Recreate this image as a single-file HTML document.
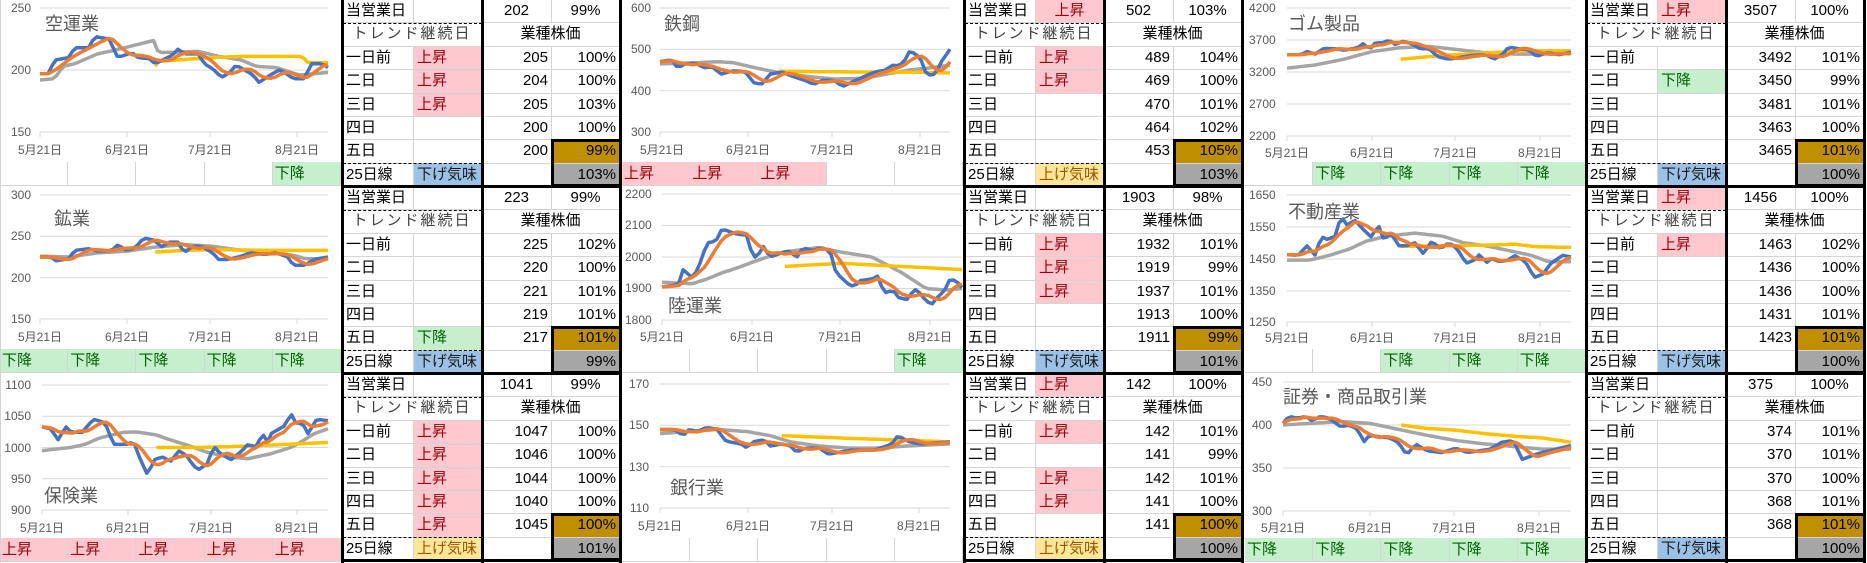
<!DOCTYPE html>
<html><head><meta charset="utf-8">
<style>
*{margin:0;padding:0}
body{width:1867px;height:563px;position:relative;background:#fff;overflow:hidden;font-family:"Liberation Sans","Noto Sans CJK JP",sans-serif;color:#000}
svg.ch{position:absolute}
svg.ch text{font-family:"Liberation Sans","Noto Sans CJK JP",sans-serif;fill:#595959}
svg.ch .n{font-size:12px}
svg.ch .d{font-size:12px}
svg.ch .t{font-size:18px}
.st{position:absolute;width:341px;height:24px;display:flex}
.st>div{width:68.2px;height:24px;box-sizing:border-box;border-right:1px solid #d4d4d4;border-bottom:1px solid #d4d4d4;font-size:15px;line-height:23px;padding-left:2px;white-space:nowrap}
.tb{position:absolute;display:grid;grid-template-columns:71px 68px 70px 68px;grid-template-rows:repeat(8,23.375px);width:277px;height:187px}
.tb>div{border-right:1px solid #d4d4d4;border-bottom:1px solid #d4d4d4;box-sizing:border-box;font-size:15px;line-height:22px;padding:0 3px;white-space:nowrap;overflow:hidden}
.tb .c{text-align:center}
.tb .r{text-align:right}
.s2{grid-column:span 2}
.tr{letter-spacing:2px;color:#404040}
.p{background:#ffc7ce;color:#9c0006}
.g{background:#c6efce;color:#006100}
.b{background:#9bc2e6;color:#1a1a1a}
.y{background:#ffe699;color:#9c5700}
.br{background:#bf8f00}
.gy{background:#a6a6a6}
.k{position:absolute;background:#000}
.dh{position:absolute;height:0;border-top:1.5px dashed #000;width:139px}
.bx{position:absolute;border:3px solid #000;box-sizing:border-box;width:71px;height:48px}
</style></head><body>

<svg class="ch" id="c1" style="left:0;top:0" width="341" height="162">
<g stroke="#d9d9d9" stroke-width="1"><line x1="40" x2="328" y1="8" y2="8"/><line x1="40" x2="328" y1="70" y2="70"/><line x1="40" x2="328" y1="132" y2="132"/>
<line x1="40" x2="40" y1="132" y2="137"/><line x1="127" x2="127" y1="132" y2="137"/><line x1="210" x2="210" y1="132" y2="137"/><line x1="297" x2="297" y1="132" y2="137"/></g>
<text class="n" x="31" y="12" text-anchor="end">250</text><text class="n" x="31" y="74" text-anchor="end">200</text><text class="n" x="31" y="136" text-anchor="end">150</text>
<text class="d" x="40" y="154" text-anchor="middle">5月21日</text><text class="d" x="127" y="154" text-anchor="middle">6月21日</text><text class="d" x="210" y="154" text-anchor="middle">7月21日</text><text class="d" x="297" y="154" text-anchor="middle">8月21日</text>
<text class="t" x="45" y="30">空運業</text>
</svg>
<svg class="ch" id="c2" style="left:0;top:187px" width="341" height="162">
<g stroke="#d9d9d9"><line x1="40" x2="328" y1="8" y2="8"/><line x1="40" x2="328" y1="49.3" y2="49.3"/><line x1="40" x2="328" y1="90.7" y2="90.7"/><line x1="40" x2="328" y1="132" y2="132"/>
<line x1="40" x2="40" y1="132" y2="137"/><line x1="127" x2="127" y1="132" y2="137"/><line x1="210" x2="210" y1="132" y2="137"/><line x1="297" x2="297" y1="132" y2="137"/></g>
<text class="n" x="31" y="12" text-anchor="end">300</text><text class="n" x="31" y="53" text-anchor="end">250</text><text class="n" x="31" y="95" text-anchor="end">200</text><text class="n" x="31" y="136" text-anchor="end">150</text>
<text class="d" x="40" y="154" text-anchor="middle">5月21日</text><text class="d" x="127" y="154" text-anchor="middle">6月21日</text><text class="d" x="210" y="154" text-anchor="middle">7月21日</text><text class="d" x="297" y="154" text-anchor="middle">8月21日</text>
<text class="t" x="54" y="38">鉱業</text>
</svg>
<svg class="ch" id="c3" style="left:0;top:374px" width="341" height="164">
<g stroke="#d9d9d9"><line x1="42" x2="328" y1="11" y2="11"/><line x1="42" x2="328" y1="42.25" y2="42.25"/><line x1="42" x2="328" y1="73.5" y2="73.5"/><line x1="42" x2="328" y1="104.75" y2="104.75"/><line x1="42" x2="328" y1="136" y2="136"/>
<line x1="42" x2="42" y1="136" y2="141"/><line x1="128" x2="128" y1="136" y2="141"/><line x1="211" x2="211" y1="136" y2="141"/><line x1="297" x2="297" y1="136" y2="141"/></g>
<text class="n" x="31" y="15" text-anchor="end">1100</text><text class="n" x="31" y="46" text-anchor="end">1050</text><text class="n" x="31" y="78" text-anchor="end">1000</text><text class="n" x="31" y="109" text-anchor="end">950</text><text class="n" x="31" y="140" text-anchor="end">900</text>
<text class="d" x="42" y="158" text-anchor="middle">5月21日</text><text class="d" x="128" y="158" text-anchor="middle">6月21日</text><text class="d" x="211" y="158" text-anchor="middle">7月21日</text><text class="d" x="297" y="158" text-anchor="middle">8月21日</text>
<text class="t" x="44" y="128">保険業</text>
</svg>
<svg class="ch" id="c4" style="left:622px;top:0" width="341" height="162">
<g stroke="#d9d9d9"><line x1="38" x2="328" y1="8" y2="8"/><line x1="38" x2="328" y1="49.3" y2="49.3"/><line x1="38" x2="328" y1="90.7" y2="90.7"/><line x1="38" x2="328" y1="132" y2="132"/>
<line x1="38" x2="38" y1="132" y2="137"/><line x1="126" x2="126" y1="132" y2="137"/><line x1="210" x2="210" y1="132" y2="137"/><line x1="298" x2="298" y1="132" y2="137"/></g>
<text class="n" x="29" y="12" text-anchor="end">600</text><text class="n" x="29" y="53" text-anchor="end">500</text><text class="n" x="29" y="95" text-anchor="end">400</text><text class="n" x="29" y="136" text-anchor="end">300</text>
<text class="d" x="40" y="154" text-anchor="middle">5月21日</text><text class="d" x="126" y="154" text-anchor="middle">6月21日</text><text class="d" x="210" y="154" text-anchor="middle">7月21日</text><text class="d" x="298" y="154" text-anchor="middle">8月21日</text>
<text class="t" x="42" y="30">鉄鋼</text>
</svg>
<svg class="ch" id="c5" style="left:622px;top:187px" width="341" height="162">
<g stroke="#d9d9d9"><line x1="40" x2="340" y1="7" y2="7"/><line x1="40" x2="340" y1="38.5" y2="38.5"/><line x1="40" x2="340" y1="70" y2="70"/><line x1="40" x2="340" y1="101.5" y2="101.5"/><line x1="40" x2="340" y1="133" y2="133"/>
<line x1="40" x2="40" y1="133" y2="138"/><line x1="130" x2="130" y1="133" y2="138"/><line x1="218" x2="218" y1="133" y2="138"/><line x1="308" x2="308" y1="133" y2="138"/></g>
<text class="n" x="3" y="11">2200</text><text class="n" x="3" y="42">2100</text><text class="n" x="3" y="74">2000</text><text class="n" x="3" y="105">1900</text><text class="n" x="3" y="137">1800</text>
<text class="d" x="40" y="154" text-anchor="middle">5月21日</text><text class="d" x="130" y="154" text-anchor="middle">6月21日</text><text class="d" x="218" y="154" text-anchor="middle">7月21日</text><text class="d" x="308" y="154" text-anchor="middle">8月21日</text>
<text class="t" x="46" y="125">陸運業</text>
</svg>
<svg class="ch" id="c6" style="left:622px;top:374px" width="341" height="164">
<g stroke="#d9d9d9"><line x1="38" x2="328" y1="10" y2="10"/><line x1="38" x2="328" y1="51.3" y2="51.3"/><line x1="38" x2="328" y1="92.7" y2="92.7"/><line x1="38" x2="328" y1="134" y2="134"/>
<line x1="38" x2="38" y1="134" y2="139"/><line x1="126" x2="126" y1="134" y2="139"/><line x1="210" x2="210" y1="134" y2="139"/><line x1="297" x2="297" y1="134" y2="139"/></g>
<text class="n" x="27" y="14" text-anchor="end">170</text><text class="n" x="27" y="55" text-anchor="end">150</text><text class="n" x="27" y="97" text-anchor="end">130</text><text class="n" x="27" y="138" text-anchor="end">110</text>
<text class="d" x="38" y="156" text-anchor="middle">5月21日</text><text class="d" x="126" y="156" text-anchor="middle">6月21日</text><text class="d" x="210" y="156" text-anchor="middle">7月21日</text><text class="d" x="297" y="156" text-anchor="middle">8月21日</text>
<text class="t" x="48" y="120">銀行業</text>
</svg>
<svg class="ch" id="c7" style="left:1245px;top:0" width="341" height="162">
<g stroke="#d9d9d9"><line x1="42" x2="326" y1="8" y2="8"/><line x1="42" x2="326" y1="40" y2="40"/><line x1="42" x2="326" y1="72" y2="72"/><line x1="42" x2="326" y1="104" y2="104"/><line x1="42" x2="326" y1="136" y2="136"/>
<line x1="42" x2="42" y1="136" y2="141"/><line x1="127" x2="127" y1="136" y2="141"/><line x1="210" x2="210" y1="136" y2="141"/><line x1="295" x2="295" y1="136" y2="141"/></g>
<text class="n" x="4" y="12">4200</text><text class="n" x="4" y="44">3700</text><text class="n" x="4" y="76">3200</text><text class="n" x="4" y="108">2700</text><text class="n" x="4" y="140">2200</text>
<text class="d" x="42" y="157" text-anchor="middle">5月21日</text><text class="d" x="127" y="157" text-anchor="middle">6月21日</text><text class="d" x="210" y="157" text-anchor="middle">7月21日</text><text class="d" x="295" y="157" text-anchor="middle">8月21日</text>
<text class="t" x="43" y="30">ゴム製品</text>
</svg>
<svg class="ch" id="c8" style="left:1245px;top:187px" width="341" height="162">
<g stroke="#d9d9d9"><line x1="42" x2="326" y1="8" y2="8"/><line x1="42" x2="326" y1="40" y2="40"/><line x1="42" x2="326" y1="72" y2="72"/><line x1="42" x2="326" y1="104" y2="104"/><line x1="42" x2="326" y1="135" y2="135"/>
<line x1="42" x2="42" y1="135" y2="140"/><line x1="127" x2="127" y1="135" y2="140"/><line x1="210" x2="210" y1="135" y2="140"/><line x1="295" x2="295" y1="135" y2="140"/></g>
<text class="n" x="4" y="12">1650</text><text class="n" x="4" y="44">1550</text><text class="n" x="4" y="76">1450</text><text class="n" x="4" y="108">1350</text><text class="n" x="4" y="139">1250</text>
<text class="d" x="42" y="155" text-anchor="middle">5月21日</text><text class="d" x="127" y="155" text-anchor="middle">6月21日</text><text class="d" x="210" y="155" text-anchor="middle">7月21日</text><text class="d" x="295" y="155" text-anchor="middle">8月21日</text>
<text class="t" x="43" y="31">不動産業</text>
</svg>
<svg class="ch" id="c9" style="left:1245px;top:374px" width="341" height="164">
<g stroke="#d9d9d9"><line x1="38" x2="326" y1="8" y2="8"/><line x1="38" x2="326" y1="51" y2="51"/><line x1="38" x2="326" y1="94" y2="94"/><line x1="38" x2="326" y1="137" y2="137"/>
<line x1="38" x2="38" y1="137" y2="142"/><line x1="125" x2="125" y1="137" y2="142"/><line x1="209" x2="209" y1="137" y2="142"/><line x1="294" x2="294" y1="137" y2="142"/></g>
<text class="n" x="27" y="12" text-anchor="end">450</text><text class="n" x="27" y="55" text-anchor="end">400</text><text class="n" x="27" y="98" text-anchor="end">350</text><text class="n" x="27" y="141" text-anchor="end">300</text>
<text class="d" x="38" y="158" text-anchor="middle">5月21日</text><text class="d" x="125" y="158" text-anchor="middle">6月21日</text><text class="d" x="209" y="158" text-anchor="middle">7月21日</text><text class="d" x="294" y="158" text-anchor="middle">8月21日</text>
<text class="t" x="38" y="29">証券・商品取引業</text>
</svg>

<div class="st" style="left:0;top:162px"><div></div><div></div><div></div><div></div><div class="g">下降</div></div>
<div class="st" style="left:0;top:349px"><div class="g">下降</div><div class="g">下降</div><div class="g">下降</div><div class="g">下降</div><div class="g">下降</div></div>
<div class="st" style="left:0;top:538px"><div class="p">上昇</div><div class="p">上昇</div><div class="p">上昇</div><div class="p">上昇</div><div class="p">上昇</div></div>
<div class="st" style="left:622px;top:162px"><div class="p">上昇</div><div class="p">上昇</div><div class="p">上昇</div><div></div><div></div></div>
<div class="st" style="left:622px;top:349px"><div></div><div></div><div></div><div></div><div class="g">下降</div></div>
<div class="st" style="left:622px;top:538px"><div></div><div></div><div></div><div></div><div></div></div>
<div class="st" style="left:1245px;top:162px"><div></div><div class="g">下降</div><div class="g">下降</div><div class="g">下降</div><div class="g">下降</div></div>
<div class="st" style="left:1245px;top:349px"><div></div><div></div><div class="g">下降</div><div class="g">下降</div><div class="g">下降</div></div>
<div class="st" style="left:1245px;top:538px"><div class="g">下降</div><div class="g">下降</div><div class="g">下降</div><div class="g">下降</div><div class="g">下降</div></div>

<div class="tb" style="left:343px;top:0">
<div>当営業日</div><div></div><div class="c">202</div><div class="c">99%</div>
<div class="c s2 tr">トレンド継続日</div><div class="c s2">業種株価</div>
<div>一日前</div><div class="p">上昇</div><div class="r">205</div><div class="r">100%</div>
<div>二日</div><div class="p">上昇</div><div class="r">204</div><div class="r">100%</div>
<div>三日</div><div class="p">上昇</div><div class="r">205</div><div class="r">103%</div>
<div>四日</div><div></div><div class="r">200</div><div class="r">100%</div>
<div>五日</div><div></div><div class="r">200</div><div class="r br">99%</div>
<div>25日線</div><div class="b">下げ気味</div><div></div><div class="r gy">103%</div>
</div>
<div class="tb" style="left:343px;top:187px">
<div>当営業日</div><div></div><div class="c">223</div><div class="c">99%</div>
<div class="c s2 tr">トレンド継続日</div><div class="c s2">業種株価</div>
<div>一日前</div><div></div><div class="r">225</div><div class="r">102%</div>
<div>二日</div><div></div><div class="r">220</div><div class="r">100%</div>
<div>三日</div><div></div><div class="r">221</div><div class="r">101%</div>
<div>四日</div><div></div><div class="r">219</div><div class="r">101%</div>
<div>五日</div><div class="g">下降</div><div class="r">217</div><div class="r br">101%</div>
<div>25日線</div><div class="b">下げ気味</div><div></div><div class="r gy">99%</div>
</div>
<div class="tb" style="left:343px;top:374px">
<div>当営業日</div><div></div><div class="c">1041</div><div class="c">99%</div>
<div class="c s2 tr">トレンド継続日</div><div class="c s2">業種株価</div>
<div>一日前</div><div class="p">上昇</div><div class="r">1047</div><div class="r">100%</div>
<div>二日</div><div class="p">上昇</div><div class="r">1046</div><div class="r">100%</div>
<div>三日</div><div class="p">上昇</div><div class="r">1044</div><div class="r">100%</div>
<div>四日</div><div class="p">上昇</div><div class="r">1040</div><div class="r">100%</div>
<div>五日</div><div class="p">上昇</div><div class="r">1045</div><div class="r br">100%</div>
<div>25日線</div><div class="y">上げ気味</div><div></div><div class="r gy">101%</div>
</div>

<div class="tb" style="left:965px;top:0">
<div>当営業日</div><div class="p c">上昇</div><div class="c">502</div><div class="c">103%</div>
<div class="c s2 tr">トレンド継続日</div><div class="c s2">業種株価</div>
<div>一日前</div><div class="p">上昇</div><div class="r">489</div><div class="r">104%</div>
<div>二日</div><div class="p">上昇</div><div class="r">469</div><div class="r">100%</div>
<div>三日</div><div></div><div class="r">470</div><div class="r">101%</div>
<div>四日</div><div></div><div class="r">464</div><div class="r">102%</div>
<div>五日</div><div></div><div class="r">453</div><div class="r br">105%</div>
<div>25日線</div><div class="y">上げ気味</div><div></div><div class="r gy">103%</div>
</div>
<div class="tb" style="left:965px;top:187px">
<div>当営業日</div><div></div><div class="c">1903</div><div class="c">98%</div>
<div class="c s2 tr">トレンド継続日</div><div class="c s2">業種株価</div>
<div>一日前</div><div class="p">上昇</div><div class="r">1932</div><div class="r">101%</div>
<div>二日</div><div class="p">上昇</div><div class="r">1919</div><div class="r">99%</div>
<div>三日</div><div class="p">上昇</div><div class="r">1937</div><div class="r">101%</div>
<div>四日</div><div></div><div class="r">1913</div><div class="r">100%</div>
<div>五日</div><div></div><div class="r">1911</div><div class="r br">99%</div>
<div>25日線</div><div class="b">下げ気味</div><div></div><div class="r gy">101%</div>
</div>
<div class="tb" style="left:965px;top:374px">
<div>当営業日</div><div class="p">上昇</div><div class="c">142</div><div class="c">100%</div>
<div class="c s2 tr">トレンド継続日</div><div class="c s2">業種株価</div>
<div>一日前</div><div class="p">上昇</div><div class="r">142</div><div class="r">101%</div>
<div>二日</div><div></div><div class="r">141</div><div class="r">99%</div>
<div>三日</div><div class="p">上昇</div><div class="r">142</div><div class="r">101%</div>
<div>四日</div><div class="p">上昇</div><div class="r">141</div><div class="r">100%</div>
<div>五日</div><div></div><div class="r">141</div><div class="r br">100%</div>
<div>25日線</div><div class="y">上げ気味</div><div></div><div class="r gy">100%</div>
</div>

<div class="tb" style="left:1587px;top:0">
<div>当営業日</div><div class="p">上昇</div><div class="c">3507</div><div class="c">100%</div>
<div class="c s2 tr">トレンド継続日</div><div class="c s2">業種株価</div>
<div>一日前</div><div></div><div class="r">3492</div><div class="r">101%</div>
<div>二日</div><div class="g">下降</div><div class="r">3450</div><div class="r">99%</div>
<div>三日</div><div></div><div class="r">3481</div><div class="r">101%</div>
<div>四日</div><div></div><div class="r">3463</div><div class="r">100%</div>
<div>五日</div><div></div><div class="r">3465</div><div class="r br">101%</div>
<div>25日線</div><div class="b">下げ気味</div><div></div><div class="r gy">100%</div>
</div>
<div class="tb" style="left:1587px;top:187px">
<div>当営業日</div><div class="p">上昇</div><div class="c">1456</div><div class="c">100%</div>
<div class="c s2 tr">トレンド継続日</div><div class="c s2">業種株価</div>
<div>一日前</div><div class="p">上昇</div><div class="r">1463</div><div class="r">102%</div>
<div>二日</div><div></div><div class="r">1436</div><div class="r">100%</div>
<div>三日</div><div></div><div class="r">1436</div><div class="r">100%</div>
<div>四日</div><div></div><div class="r">1431</div><div class="r">101%</div>
<div>五日</div><div></div><div class="r">1423</div><div class="r br">101%</div>
<div>25日線</div><div class="b">下げ気味</div><div></div><div class="r gy">100%</div>
</div>
<div class="tb" style="left:1587px;top:374px">
<div>当営業日</div><div></div><div class="c">375</div><div class="c">100%</div>
<div class="c s2 tr">トレンド継続日</div><div class="c s2">業種株価</div>
<div>一日前</div><div></div><div class="r">374</div><div class="r">101%</div>
<div>二日</div><div></div><div class="r">370</div><div class="r">101%</div>
<div>三日</div><div></div><div class="r">370</div><div class="r">100%</div>
<div>四日</div><div></div><div class="r">368</div><div class="r">101%</div>
<div>五日</div><div></div><div class="r">368</div><div class="r br">101%</div>
<div>25日線</div><div class="b">下げ気味</div><div></div><div class="r gy">100%</div>
</div>

<div style="position:absolute;left:0;top:0;width:1px;height:563px;background:#d4d4d4"></div>

<script>
(function(){
function add(cls,st){var d=document.createElement('div');d.className=cls;d.style.cssText=st;document.body.appendChild(d);}
[0,622,1244].forEach(function(gx){
  [0,187,374].forEach(function(ry){
    var h=(ry==374)?189:187;
    add('k','left:'+(gx+341)+'px;top:'+ry+'px;width:3px;height:'+h+'px');
    add('k','left:'+(gx+481)+'px;top:'+ry+'px;width:3px;height:'+h+'px');
    add('k','left:'+(gx+619)+'px;top:'+ry+'px;width:3px;height:'+h+'px');
    add('k','left:'+(gx+341)+'px;top:'+(ry+185)+'px;width:281px;height:3px');
    add('dh','left:'+(gx+343)+'px;top:'+(ry+22.5)+'px');
    add('dh','left:'+(gx+343)+'px;top:'+(ry+163)+'px');
    add('bx','left:'+(gx+551)+'px;top:'+(ry+139)+'px');
  });
});
var NS='http://www.w3.org/2000/svg';
function interp(kp,t){
  if(t<=kp[0][0])return kp[0][1];
  for(var i=1;i<kp.length;i++){if(t<=kp[i][0]){var a=kp[i-1],b=kp[i];return a[1]+(b[1]-a[1])*(t-a[0])/(b[0]-a[0]);}}
  return kp[kp.length-1][1];
}
function line(svg,pts,col){var p=document.createElementNS(NS,'polyline');p.setAttribute('points',pts.join(' '));p.setAttribute('fill','none');p.setAttribute('stroke',col);p.setAttribute('stroke-width','3.5');p.setAttribute('stroke-linejoin','round');svg.appendChild(p);}
function draw(c){
  var svg=document.getElementById(c.id),N=72;
  function X(t){return c.x0+t*(c.x1-c.x0);}
  function Y(v){return c.top+(c.ymax-v)/(c.ymax-c.ymin)*(c.bot-c.top);}
  var b=[];for(var i=0;i<N;i++)b.push(interp(c.b,i/(N-1)));
  var o=[];for(i=0;i<N;i++){var s=0,n=0;for(var j=Math.max(0,i-4);j<=i;j++){s+=b[j];n++;}o.push(s/n);}
  var g=[],y=[],bp=[],op=[];
  for(i=0;i<N;i++){var t=i/(N-1);g.push(X(t).toFixed(1)+','+Y(interp(c.g,t)).toFixed(1));
    if(t>=c.y[0][0])y.push(X(t).toFixed(1)+','+Y(interp(c.y,t)).toFixed(1));
    bp.push(X(t).toFixed(1)+','+Y(b[i]).toFixed(1));op.push(X(t).toFixed(1)+','+Y(o[i]).toFixed(1));}
  y.unshift(X(c.y[0][0]).toFixed(1)+','+Y(c.y[0][1]).toFixed(1));
  line(svg,g,'#a5a5a5');line(svg,y,'#ffc000');line(svg,bp,'#4472c4');line(svg,op,'#ed7d31');
}
var C=[
{id:'c1',x0:40,x1:328,top:8,bot:132,ymin:150,ymax:250,
b:[[0,197],[.03,197],[.05,208],[.1,210],[.12,218],[.17,218],[.19,227],[.24,225],[.27,210],[.32,214],[.34,210],[.38,209],[.4,205],[.46,212],[.48,217],[.5,213],[.55,213],[.57,205],[.6,201],[.63,194],[.66,198],[.68,204],[.71,200],[.74,196],[.76,190],[.8,196],[.83,200],[.85,198],[.88,193],[.92,193],[.94,205],[.98,205],[1,202]],
g:[[0,192],[.05,193],[.08,203],[.12,205],[.2,213],[.26,216],[.33,220],[.38,223],[.4,224],[.41,214],[.55,215],[.62,211],[.7,208],[.75,203],[.82,202],[.9,196],[.95,197],[1,198]],
y:[[.4,203],[.41,207],[.47,208],[.6,210],[.7,211],[.91,211],[.93,206],[1,206]]},
{id:'c2',x0:40,x1:328,top:8,bot:132,ymin:150,ymax:300,
b:[[0,225],[.04,225],[.05,220],[.1,223],[.12,233],[.17,235],[.2,232],[.25,233],[.27,240],[.3,233],[.33,236],[.36,248],[.4,245],[.42,237],[.45,243],[.48,243],[.5,230],[.53,238],[.56,238],[.6,230],[.62,222],[.65,222],[.7,226],[.73,230],[.78,228],[.82,230],[.86,225],[.88,215],[.92,215],[.95,222],[1,225]],
g:[[0,226],[.1,225],[.2,230],[.3,232],[.4,237],[.5,240],[.6,238],[.7,233],[.8,230],[.88,227],[.92,223],[1,223]],
y:[[.4,231],[.5,233],[.6,234],[.8,233],[1,233]]},
{id:'c3',x0:42,x1:328,top:11,bot:136,ymin:900,ymax:1100,
b:[[0,1033],[.03,1030],[.06,1010],[.08,1035],[.1,1025],[.14,1024],[.16,1035],[.18,1045],[.22,1040],[.25,1005],[.3,1005],[.32,1010],[.34,985],[.37,955],[.39,980],[.42,985],[.45,978],[.48,995],[.51,985],[.53,970],[.55,965],[.58,975],[.6,1003],[.62,992],[.66,980],[.7,995],[.72,1005],[.75,1000],[.77,1023],[.79,1008],[.8,1022],[.85,1035],[.87,1055],[.89,1037],[.91,1040],[.93,1022],[.96,1045],[1,1043]],
g:[[0,995],[.1,1000],[.15,1005],[.2,1015],[.28,1024],[.33,1025],[.4,1020],[.45,1012],[.52,1002],[.58,992],[.65,985],[.72,982],[.8,990],[.87,1000],[.91,1010],[.95,1022],[1,1030]],
y:[[.4,1000],[.55,1000],[.7,1002],[.85,1005],[1,1008]]},
{id:'c4',x0:38,x1:328,top:8,bot:132,ymin:300,ymax:600,
b:[[0,470],[.04,475],[.06,455],[.09,466],[.13,465],[.15,455],[.18,458],[.21,440],[.25,448],[.28,447],[.3,442],[.32,420],[.35,415],[.38,440],[.42,445],[.46,434],[.5,425],[.53,415],[.56,425],[.6,425],[.63,410],[.66,420],[.7,433],[.74,445],[.78,450],[.8,462],[.82,460],[.84,468],[.86,495],[.88,490],[.9,475],[.92,437],[.95,440],[.97,470],[1,500]],
g:[[0,465],[.1,467],[.2,470],[.25,468],[.33,455],[.4,445],[.5,435],[.6,428],[.7,430],[.78,440],[.86,450],[.93,455],[1,462]],
y:[[.41,447],[.55,446],[.7,445],[.85,445],[1,443]]},
{id:'c5',x0:40,x1:340,top:7,bot:133,ymin:1800,ymax:2200,
b:[[0,1905],[.04,1910],[.06,1920],[.07,1960],[.1,1935],[.12,1960],[.13,1990],[.15,2045],[.18,2050],[.2,2090],[.24,2075],[.27,2070],[.28,2075],[.3,2010],[.32,1990],[.33,2045],[.36,2000],[.42,2020],[.45,2000],[.47,2030],[.5,2020],[.53,2030],[.56,2020],[.58,1950],[.62,1915],[.64,1905],[.66,1925],[.7,1930],[.72,1940],[.74,1885],[.77,1895],[.79,1870],[.82,1865],[.84,1900],[.86,1885],[.88,1860],[.9,1850],[.92,1875],[.94,1890],[.96,1930],[.98,1925],[1,1903]],
g:[[0,1920],[.1,1915],[.15,1930],[.2,1950],[.25,1965],[.32,1990],[.4,2015],[.48,2025],[.52,2030],[.6,2015],[.7,2000],[.8,1950],[.88,1900],[.95,1895],[1,1900]],
y:[[.41,1970],[.5,1975],[.6,1980],[.7,1975],[.8,1970],[1,1960]]},
{id:'c6',x0:38,x1:328,top:10,bot:134,ymin:110,ymax:170,
b:[[0,148],[.05,148],[.08,145],[.1,148],[.13,147],[.16,149],[.2,148],[.22,143],[.24,142],[.28,141],[.3,139],[.32,142],[.36,143],[.38,140],[.42,141],[.45,140],[.47,137],[.5,139],[.55,139],[.58,136],[.62,137],[.66,138],[.7,138],[.74,138],[.78,140],[.8,141],[.82,145],[.86,142],[.9,141],[1,142]],
g:[[0,146],[.1,147],[.2,148],[.3,147],[.38,145],[.45,142],[.55,140],[.65,139],[.75,139],[.85,140],[1,141]],
y:[[.42,145],[.6,144],[.8,143],[1,142]]},
{id:'c7',x0:42,x1:326,top:8,bot:136,ymin:2200,ymax:4200,
b:[[0,3470],[.05,3470],[.07,3520],[.1,3480],[.13,3570],[.18,3560],[.2,3540],[.25,3580],[.27,3650],[.29,3550],[.31,3650],[.34,3660],[.36,3700],[.38,3630],[.41,3680],[.44,3640],[.47,3560],[.5,3570],[.53,3440],[.57,3400],[.6,3420],[.65,3460],[.7,3470],[.73,3400],[.76,3480],[.78,3590],[.82,3560],[.85,3550],[.88,3440],[.91,3500],[.93,3490],[.96,3470],[1,3510]],
g:[[0,3260],[.1,3310],[.2,3400],[.3,3520],[.4,3580],[.5,3600],[.6,3550],[.7,3500],[.8,3480],[.9,3480],[1,3500]],
y:[[.4,3400],[.55,3460],[.7,3500],[.85,3530],[1,3530]]},
{id:'c8',x0:42,x1:326,top:8,bot:135,ymin:1250,ymax:1650,
b:[[0,1462],[.04,1460],[.07,1490],[.1,1460],[.12,1520],[.14,1510],[.17,1520],[.19,1585],[.21,1555],[.24,1570],[.27,1540],[.3,1515],[.32,1560],[.34,1510],[.37,1530],[.39,1490],[.42,1490],[.45,1500],[.48,1465],[.51,1505],[.54,1480],[.57,1500],[.6,1480],[.63,1435],[.66,1445],[.68,1465],[.7,1435],[.72,1450],[.75,1440],[.78,1445],[.8,1460],[.84,1440],[.87,1390],[.9,1400],[.93,1435],[.97,1460],[1,1455]],
g:[[0,1445],[.08,1445],[.15,1460],[.22,1480],[.28,1505],[.35,1520],[.45,1530],[.55,1520],[.62,1500],[.7,1490],[.78,1475],[.86,1460],[.92,1440],[1,1440]],
y:[[.4,1488],[.55,1490],[.7,1492],[.8,1495],[.88,1487],[1,1485]]},
{id:'c9',x0:38,x1:326,top:8,bot:137,ymin:300,ymax:450,
b:[[0,402],[.02,410],[.05,408],[.08,410],[.1,405],[.13,410],[.16,408],[.2,398],[.23,400],[.26,395],[.28,380],[.3,388],[.34,386],[.37,385],[.4,380],[.43,365],[.46,378],[.5,370],[.55,368],[.6,373],[.64,368],[.68,370],[.72,372],[.76,380],[.8,382],[.83,360],[.87,365],[.9,368],[.95,372],[1,376]],
g:[[0,400],[.1,402],[.2,404],[.3,402],[.4,395],[.5,388],[.6,382],[.7,378],[.8,375],[.9,372],[1,372]],
y:[[.41,400],[.5,396],[.6,394],[.7,390],[.8,387],[.9,385],[1,380]]}
];
C.forEach(draw);
})();
</script>
</body></html>
